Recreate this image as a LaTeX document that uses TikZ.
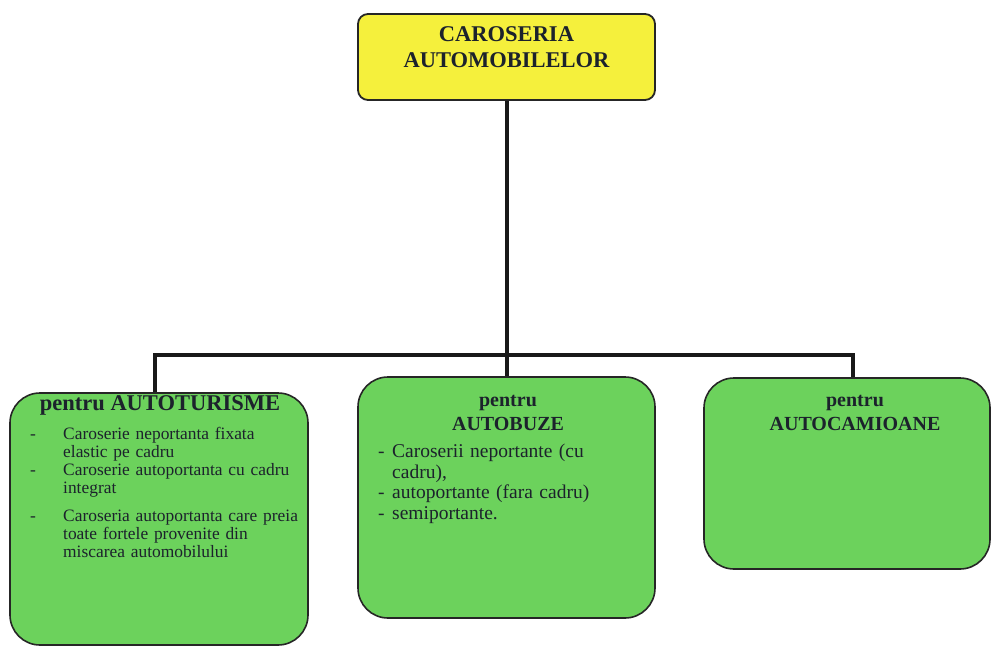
\documentclass[tikz,border=0pt]{standalone}
\usepackage{fontspec}
\setmainfont{Liberation Serif}
\usetikzlibrary{positioning}

\definecolor{boxgreen}{RGB}{108,210,92}
\definecolor{boxyellow}{RGB}{245,240,60}
\definecolor{inkdark}{RGB}{28,34,44}

\newcommand{\dashitem}[2]{\par\hangindent=#1\hangafter=0\noindent\llap{\makebox[#1][l]{-}}#2\par}

\tikzset{
  topbox/.style={draw=black!85, line width=1.8pt, fill=boxyellow, rounded corners=10pt, inner sep=0pt},
  kindbox/.style={draw=black!85, line width=1.6pt, fill=boxgreen, rounded corners=30pt, inner sep=0pt},
  link/.style={line width=4pt, black!90},
  headtxt/.style={text=inkdark, inner sep=0pt, align=center, font=\bfseries\fontsize{20}{24}\selectfont},
  bodytxt/.style={text=inkdark, inner sep=0pt}
}

\begin{document}
\begin{tikzpicture}[x=1pt, y=-1pt]
        \useasboundingbox (0, 0) rectangle (992, 647);

        \node[topbox, minimum width=297, minimum height=86] (top) at (506.5, 57) {};
        \node[kindbox, minimum width=298, minimum height=252] (turism) at (159, 519) {};
        \node[kindbox, minimum width=297, minimum height=241] (buze) at (506.5, 497.5) {};
        \node[kindbox, minimum width=286, minimum height=191] (camion) at (847, 473.5) {};

        \coordinate (bus) at (506.5, 355);
        \draw[link] (top.south) -- (buze.north);
        \draw[link] ([xshift=-4]turism.north) |- (bus) -| ([xshift=6]camion.north);

        \node[headtxt, anchor=north, font=\bfseries\fontsize{22.5}{26}\selectfont] (toptitle) at (506.5, 26) {CAROSERIA\\AUTOMOBILELOR};

        \node[headtxt, anchor=base, font=\bfseries\fontsize{22.5}{26}\selectfont] (turismtitle) at (160, 410) {pentru AUTOTURISME};
        \node[bodytxt, anchor=north west, text width=275, font=\fontsize{17.4}{18}\selectfont] (turismlist) at (30, 421) {%
          \raggedright
          \dashitem{33pt}{Caroserie neportanta fixata\newline elastic pe cadru}
          \dashitem{33pt}{Caroserie autoportanta cu cadru\newline integrat}
          \vspace{10pt}
          \dashitem{33pt}{Caroseria autoportanta care preia\newline toate fortele provenite din\newline miscarea automobilului}};

        \node[headtxt, anchor=north] (buzetitle) at (508, 395) {pentru\\AUTOBUZE};
        \node[bodytxt, anchor=north west, text width=264, font=\fontsize{19.5}{20.5}\selectfont] (buzelist) at (378, 437) {%
          \raggedright
          \dashitem{14pt}{Caroserii neportante (cu\newline cadru),}
          \dashitem{14pt}{autoportante (fara cadru)}
          \dashitem{14pt}{semiportante.}};

        \node[headtxt, anchor=north] (camiontitle) at (855, 395) {pentru\\AUTOCAMIOANE};
        \end{tikzpicture}
\end{document}
